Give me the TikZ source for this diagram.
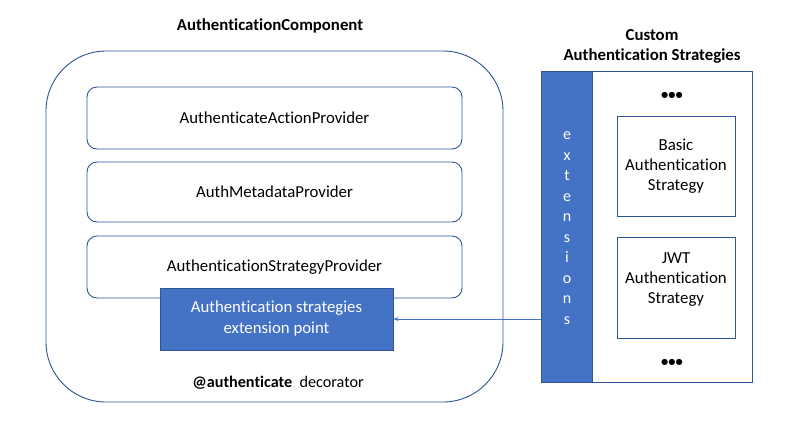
\documentclass[tikz,border=0pt]{standalone}
\usepackage{fontspec}
\setmainfont{Carlito}[Ligatures=NoCommon]
\usetikzlibrary{arrows.meta}
\definecolor{boxblue}{HTML}{4472C4}
\definecolor{edgeblue}{HTML}{2F5597}
\tikzset{
  provider/.style={draw=edgeblue, line width=0.9pt, rounded corners=10pt, fill=white, minimum width=375pt, font=\fontsize{16.8}{19}\selectfont},
  extpoint/.style={draw=edgeblue, line width=0.9pt, fill=boxblue, text=white, minimum width=233pt, minimum height=62pt, align=center, font=\fontsize{16.8}{21}\selectfont},
  strategy/.style={draw=edgeblue, line width=0.9pt, fill=white, minimum width=118pt, align=center, font=\fontsize{16.8}{20}\selectfont},
  heading/.style={font=\bfseries\fontsize{16.8}{20}\selectfont, align=center},
  morestrat/.style={font=\bfseries\fontsize{14.5}{20}\selectfont, inner sep=0pt}
}
\begin{document}
\begin{tikzpicture}[x=1pt, y=-1pt]
			%%%%% START %%%%%
			\useasboundingbox[fill=white] (0, 0) rectangle (796, 432);
			
			% authentication component
			\node[heading] (comptitle) at (270, 26) {AuthenticationComponent};
			\node[draw=edgeblue, line width=0.9pt, rounded corners=60pt, minimum width=457pt, minimum height=351pt] (comp) at (274.5, 226.5) {};
			
			\node[provider, minimum height=62pt] (actionprov) at (274.5, 118) {AuthenticateActionProvider};
			\node[provider, minimum height=60pt] (metaprov) at (274.5, 192) {AuthMetadataProvider};
			\node[provider, minimum height=62pt] (stratprov) at (274.5, 267) {AuthenticationStrategyProvider};
			\node[extpoint] (extpt) at (276.5, 319) {Authentication strategies\\extension point};
			
			\node[font=\fontsize{16.2}{19}\selectfont] (decor) at (278, 383) {\textbf{@authenticate}\ \ decorator};
			
			% custom strategies
			\node[heading] (custtitle) at (652, 46) {Custom\\Authentication Strategies};
			\node[draw=edgeblue, line width=0.9pt, minimum width=211pt, minimum height=311pt] (custom) at (646.5, 226.5) {};
			\node[draw=edgeblue, line width=0.9pt, fill=boxblue, minimum width=51pt, minimum height=311pt, anchor=west] (extbar) at (custom.west) {};
			\node[text=white, align=center, font=\fontsize{16}{20.5}\selectfont] (exttext) at (567, 228) {e\\x\\t\\e\\n\\s\\i\\o\\n\\s};
			
			\node[morestrat] (dotstop) at (672, 96) {•••};
			\node[strategy, minimum height=100pt] (basic) at (676, 166) {Basic\\Authentication\\Strategy};
			\node[strategy, minimum height=101pt, text depth=18pt] (jwt) at (676, 287.5) {JWT\\Authentication\\Strategy};
			\node[morestrat] (dotsbot) at (672, 363) {•••};
			
			\draw[boxblue, line width=0.7pt, -{Stealth[length=5pt, width=4pt]}] (extbar.west |- extpt.east) -- (extpt.east);
			%%%%% END %%%%%
		\end{tikzpicture}
\end{document}
